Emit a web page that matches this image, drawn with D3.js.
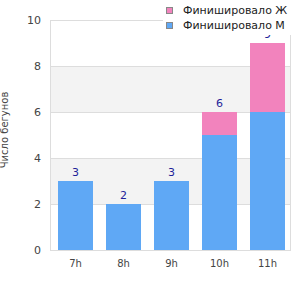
<!DOCTYPE html>
<html>
<head>
<meta charset="utf-8">
<script src="https://cdn.jsdelivr.net/npm/d3@7"></script>
<style>
  body { margin: 0; background: #fff; }
  svg { display: block; font-family: "DejaVu Sans", sans-serif; }
</style>
</head>
<body>
<div id="chart"></div>
<script>
(function () {
    const width = 300;
    const height = 300;

    // Data
    const hours = ["7h", "8h", "9h", "10h", "11h"];
    const finishedM = [3, 2, 3, 5, 6];
    const finishedF = [0, 0, 0, 1, 3];
    const yTicks = [0, 2, 4, 6, 8, 10];
    const seriesNames = ["Финишировало Ж", "Финишировало М"];

    const colorM = "#5fa8f5";
    const colorF = "#f283bd";

    const svg = d3.select("#chart")
        .append("svg")
        .attr("width", width)
        .attr("height", height);

    const x = d3.scaleBand()
        .domain(hours)
        .range([51.5, 291.5])
        .paddingInner(13 / 48)
        .paddingOuter(13 / 96);

    const y = d3.scaleLinear()
        .domain([0, 10])
        .range([250, 20]);

    // Alternating bands
    svg.append("g")
        .selectAll("rect")
        .data([[2, 4], [6, 8]])
        .enter()
        .append("rect")
        .attr("x", 50)
        .attr("width", 240)
        .attr("y", d => y(d[1]))
        .attr("height", d => y(d[0]) - y(d[1]))
        .style("fill", "#f3f3f3");

    // Grid lines
    svg.append("g")
        .selectAll("line")
        .data(yTicks)
        .enter()
        .append("line")
        .attr("x1", 50)
        .attr("x2", 290)
        .attr("y1", d => y(d) + 0.5)
        .attr("y2", d => y(d) + 0.5)
        .style("stroke", "#dddddd");

    // Left and right borders
    svg.append("line")
        .attr("x1", 50.5).attr("x2", 50.5)
        .attr("y1", 20).attr("y2", 251)
        .style("stroke", "#dddddd");
    svg.append("line")
        .attr("x1", 290.5).attr("x2", 290.5)
        .attr("y1", 20).attr("y2", 251)
        .style("stroke", "#dddddd");

    // Bars: M then F stacked
    svg.append("g")
        .selectAll("rect")
        .data(hours)
        .enter()
        .append("rect")
        .attr("x", d => x(d))
        .attr("width", x.bandwidth())
        .attr("y", (d, i) => y(finishedM[i]))
        .attr("height", (d, i) => y(0) - y(finishedM[i]))
        .style("fill", colorM);

    svg.append("g")
        .selectAll("rect")
        .data(hours)
        .enter()
        .append("rect")
        .attr("x", d => x(d))
        .attr("width", x.bandwidth())
        .attr("y", (d, i) => y(finishedM[i] + finishedF[i]))
        .attr("height", (d, i) => y(finishedM[i]) - y(finishedM[i] + finishedF[i]))
        .style("fill", colorF);

    // Total labels
    svg.append("g")
        .selectAll("text")
        .data(hours)
        .enter()
        .append("text")
        .attr("x", d => x(d) + x.bandwidth() / 2)
        .attr("y", (d, i) => y(finishedM[i] + finishedF[i]) - 5)
        .attr("text-anchor", "middle")
        .style("font-size", "11px")
        .style("fill", "#1f1f99")
        .text((d, i) => finishedM[i] + finishedF[i]);

    // Y tick labels
    svg.append("g")
        .selectAll("text")
        .data(yTicks)
        .enter()
        .append("text")
        .attr("x", 41)
        .attr("y", d => y(d))
        .attr("dy", ".35em")
        .attr("text-anchor", "end")
        .style("font-size", "11px")
        .style("fill", "#444")
        .text(d => d);

    // X tick labels
    svg.append("g")
        .selectAll("text")
        .data(hours)
        .enter()
        .append("text")
        .attr("x", d => x(d) + x.bandwidth() / 2)
        .attr("y", 267)
        .attr("text-anchor", "middle")
        .style("font-size", "10px")
        .style("fill", "#444")
        .text(d => d);

    // Y axis title
    svg.append("text")
        .attr("transform", "translate(8,130) rotate(-90)")
        .attr("text-anchor", "middle")
        .style("font-size", "10px")
        .style("fill", "#444")
        .text("Число бегунов");

    // Legend with white background
    const legend = svg.append("g");
    legend.append("rect")
        .attr("x", 163)
        .attr("y", 0)
        .attr("width", 137)
        .attr("height", 35)
        .style("fill", "#fff");

    legend.selectAll("g")
        .data(seriesNames)
        .enter()
        .append("g")
        .attr("transform", (d, i) => `translate(166,${7 + i * 15})`)
        .each(function (d, i) {
            const g = d3.select(this);
            g.append("rect")
                .attr("x", 0.5).attr("y", 0.5)
                .attr("width", 6).attr("height", 6)
                .style("fill", i === 0 ? colorF : colorM)
                .style("stroke", "#888");
            g.append("text")
                .attr("x", 17)
                .attr("y", 3.5)
                .attr("dy", ".35em")
                .style("font-size", "11px")
                .style("fill", "#222")
                .text(d);
        });
})();
</script>
</body>
</html>
